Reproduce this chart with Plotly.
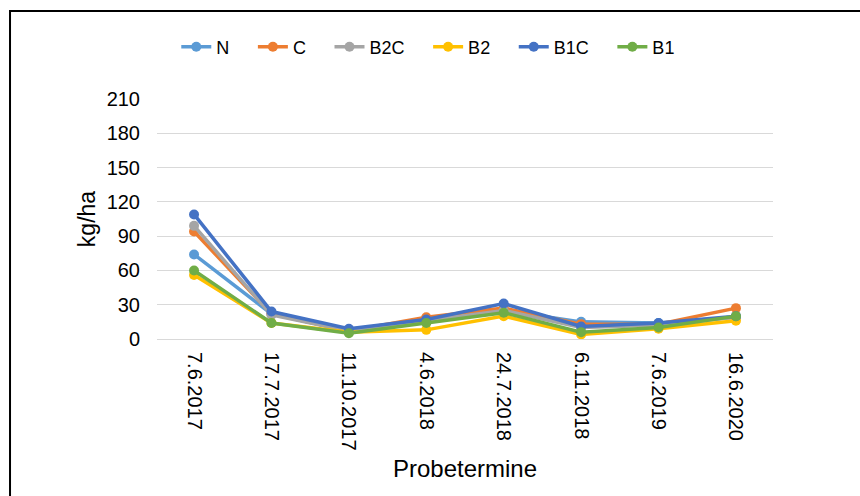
import plotly.graph_objects as go

dates = ["7.6.2017", "17.7.2017", "11.10.2017", "4.6.2018", "24.7.2018", "6.11.2018", "7.6.2019", "16.6.2020"]
N = [74, 22, 7, 15, 25, 15, 14, 19]
C = [94, 22, 7, 19, 27, 13, 13, 27]
B2C = [99, 21, 7, 16, 25, 10, 12, 19]
B2 = [56, 14, 6, 8, 20, 4, 9, 16]
B1C = [109, 24, 9, 17, 31, 11, 14, 20]
B1 = [60, 14, 5, 14, 23, 6, 10, 20]

series = [("N", N, "#5B9BD5"), ("C", C, "#ED7D31"), ("B2C", B2C, "#A5A5A5"),
          ("B2", B2, "#FFC000"), ("B1C", B1C, "#4472C4"), ("B1", B1, "#70AD47")]

pad = "\u00a0\u00a0\u00a0\u2009"
fig = go.Figure()
for name, vals, col in series:
    fig.add_trace(go.Scatter(x=dates, y=vals, name=name + pad, mode="lines+markers",
                             line=dict(color=col, width=3.5),
                             marker=dict(color=col, size=10)))

font = "Liberation Sans, Arial, sans-serif"
fig.update_layout(
    width=860, height=496,
    margin=dict(l=157, r=87, t=99, b=157),
    paper_bgcolor="white", plot_bgcolor="white",
    font=dict(family=font, color="#000000", size=20),
    showlegend=True,
    legend=dict(orientation="h", x=0.455, xanchor="center", y=1.2167, yanchor="middle",
                font=dict(size=18, family=font), tracegroupgap=0,
                bgcolor="rgba(0,0,0,0)"),
    xaxis=dict(type="category", tickangle=90, showgrid=False, showline=False,
               ticks="", tickfont=dict(size=20, family=font), ticklabelstandoff=12,
               title=dict(text="Probetermine", font=dict(size=24, family=font), standoff=10)),
    yaxis=dict(range=[0, 210], tickvals=[0, 30, 60, 90, 120, 150, 180, 210],
               showgrid=True, gridcolor="#D9D9D9", gridwidth=1,
               zeroline=True, zerolinecolor="#D9D9D9", zerolinewidth=1,
               showline=False, ticks="", tickfont=dict(size=20, family=font),
               ticklabelstandoff=16,
               title=dict(text="kg/ha", font=dict(size=23, family=font), standoff=4)),
    shapes=[dict(type="rect", xref="paper", yref="paper",
                 x0=-0.2386, x1=1.6, y0=-1.0, y1=1.3667,
                 line=dict(color="#000000", width=2), layer="below")],
)
fig.write_html("out.html")
